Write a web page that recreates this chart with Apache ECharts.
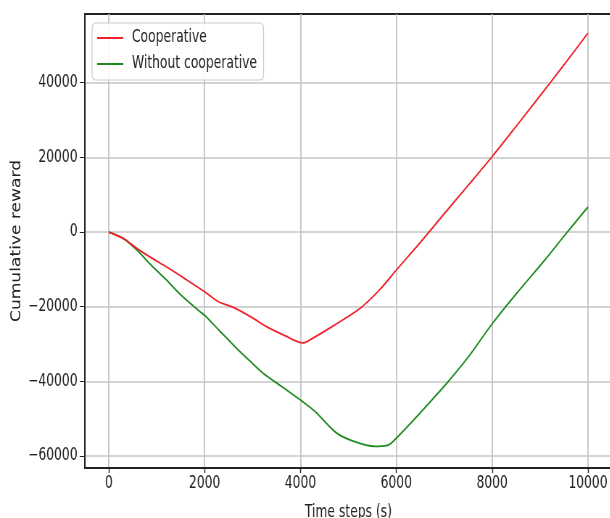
<!DOCTYPE html>
<html>
<head>
<meta charset="utf-8">
<script src="https://cdn.jsdelivr.net/npm/echarts@6/dist/echarts.min.js"></script>
<style>
html,body{margin:0;padding:0;background:#fff;overflow:hidden;}
#wrap{width:610px;height:518px;overflow:hidden;position:relative;}
#chart{width:842px;height:518px;transform:scaleX(0.725);transform-origin:0 0;position:absolute;left:0;top:0;}
</style>
</head>
<body>
<div id="wrap"><div id="chart"></div></div>
<script>
// Data
var seriesNames = ['Cooperative', 'Without cooperative'];
var coopX = [0, 300, 600, 900, 1200, 1600, 2000, 2280, 2600, 3000, 3300, 3700, 3950, 4050, 4250, 4700, 5240, 5650, 6000, 6500, 7000, 7500, 8000, 8500, 9000, 9500, 10000];
var coopY = [0, -1700, -4500, -7000, -9300, -12600, -16000, -18600, -20200, -23000, -25400, -27900, -29400, -29700, -28500, -25000, -20500, -15500, -10200, -2800, 4900, 12500, 20200, 28300, 36500, 44800, 53300];
var withoutX = [0, 300, 600, 850, 1200, 1500, 1900, 2000, 2300, 2665, 3000, 3220, 3600, 4000, 4300, 4750, 5100, 5550, 5800, 5900, 6300, 6700, 7080, 7500, 8000, 8500, 9100, 9500, 10000];
var withoutY = [0, -1700, -5000, -8400, -12800, -16800, -21300, -22300, -26300, -31100, -35200, -37800, -41300, -45000, -48000, -53800, -56000, -57400, -57200, -56500, -51200, -45600, -40100, -33500, -24600, -16600, -7500, -1100, 6700];
var xTicks = [0, 2000, 4000, 6000, 8000, 10000];
var yTicks = [-60000, -40000, -20000, 0, 20000, 40000];
var xLabel = 'Time steps (s)';
var yLabel = 'Cumulative reward';

function pairs(xs, ys) { return xs.map(function (x, i) { return [x, ys[i]]; }); }
function fmt(v) { return v < 0 ? '\u2212' + Math.abs(v) : String(v); }

var font = 'DejaVu Sans';
var chart = echarts.init(document.getElementById('chart'), null, {renderer: 'canvas', width: 842, height: 518});
chart.setOption({
  backgroundColor: '#ffffff',
  animation: false,
  grid: {left: 117, right: -2, top: 14, bottom: 50, containLabel: false, outerBoundsMode: 'none',
         show: true, borderColor: '#222', borderWidth: 1.8},
  legend: {
    orient: 'vertical', left: 127, top: 23,
    padding: [5, 9, 6, 7],
    icon: 'rect',
    itemWidth: 36, itemHeight: 2, itemGap: 6,
    backgroundColor: 'rgba(255,255,255,0.85)',
    borderColor: '#cccccc', borderWidth: 1.2, borderRadius: 5,
    textStyle: {fontFamily: font, fontSize: 17, color: '#222', padding: [0, 0, 0, 7], lineHeight: 20},
    data: seriesNames
  },
  xAxis: {
    type: 'value', min: -500, max: 10500,
    name: xLabel, nameLocation: 'middle', nameGap: 36,
    nameTextStyle: {fontFamily: font, fontSize: 17, color: '#222'},
    axisLine: {show: true, onZero: false, lineStyle: {color: '#222', width: 1.8}},
    axisTick: {show: true, length: 5, inside: false, customValues: xTicks, lineStyle: {color: '#222', width: 1.4}},
    axisLabel: {customValues: xTicks, fontFamily: font, fontSize: 17, color: '#222', margin: 7, formatter: fmt},
    splitLine: {show: true, customValues: xTicks, lineStyle: {color: '#c4c4c4', width: 1.8}}
  },
  yAxis: {
    type: 'value', min: -63200, max: 58400,
    name: yLabel, nameLocation: 'middle', nameGap: 84, nameRotate: 90, nameMoveOverlap: false,
    nameTextStyle: {fontFamily: 'DejaVu Sans Condensed, DejaVu Sans', fontSize: 19, color: '#222'},
    axisLine: {show: true, onZero: false, lineStyle: {color: '#222', width: 1.8}},
    axisTick: {show: true, length: 7, inside: false, customValues: yTicks, lineStyle: {color: '#222', width: 1}},
    axisLabel: {customValues: yTicks, fontFamily: font, fontSize: 17, color: '#222', margin: 10, formatter: fmt},
    splitLine: {show: true, customValues: yTicks, lineStyle: {color: '#c4c4c4', width: 1.5}}
  },
  series: [
    {name: seriesNames[0], type: 'line', data: pairs(coopX, coopY), symbol: 'none', smooth: 0.3,
     lineStyle: {color: '#f0212b', width: 1.8}, itemStyle: {color: '#f0212b'}, z: 3},
    {name: seriesNames[1], type: 'line', data: pairs(withoutX, withoutY), symbol: 'none', smooth: 0.3,
     lineStyle: {color: '#1f8a1f', width: 1.8}, itemStyle: {color: '#1f8a1f'}, z: 2}
  ]
});
</script>
</body>
</html>
